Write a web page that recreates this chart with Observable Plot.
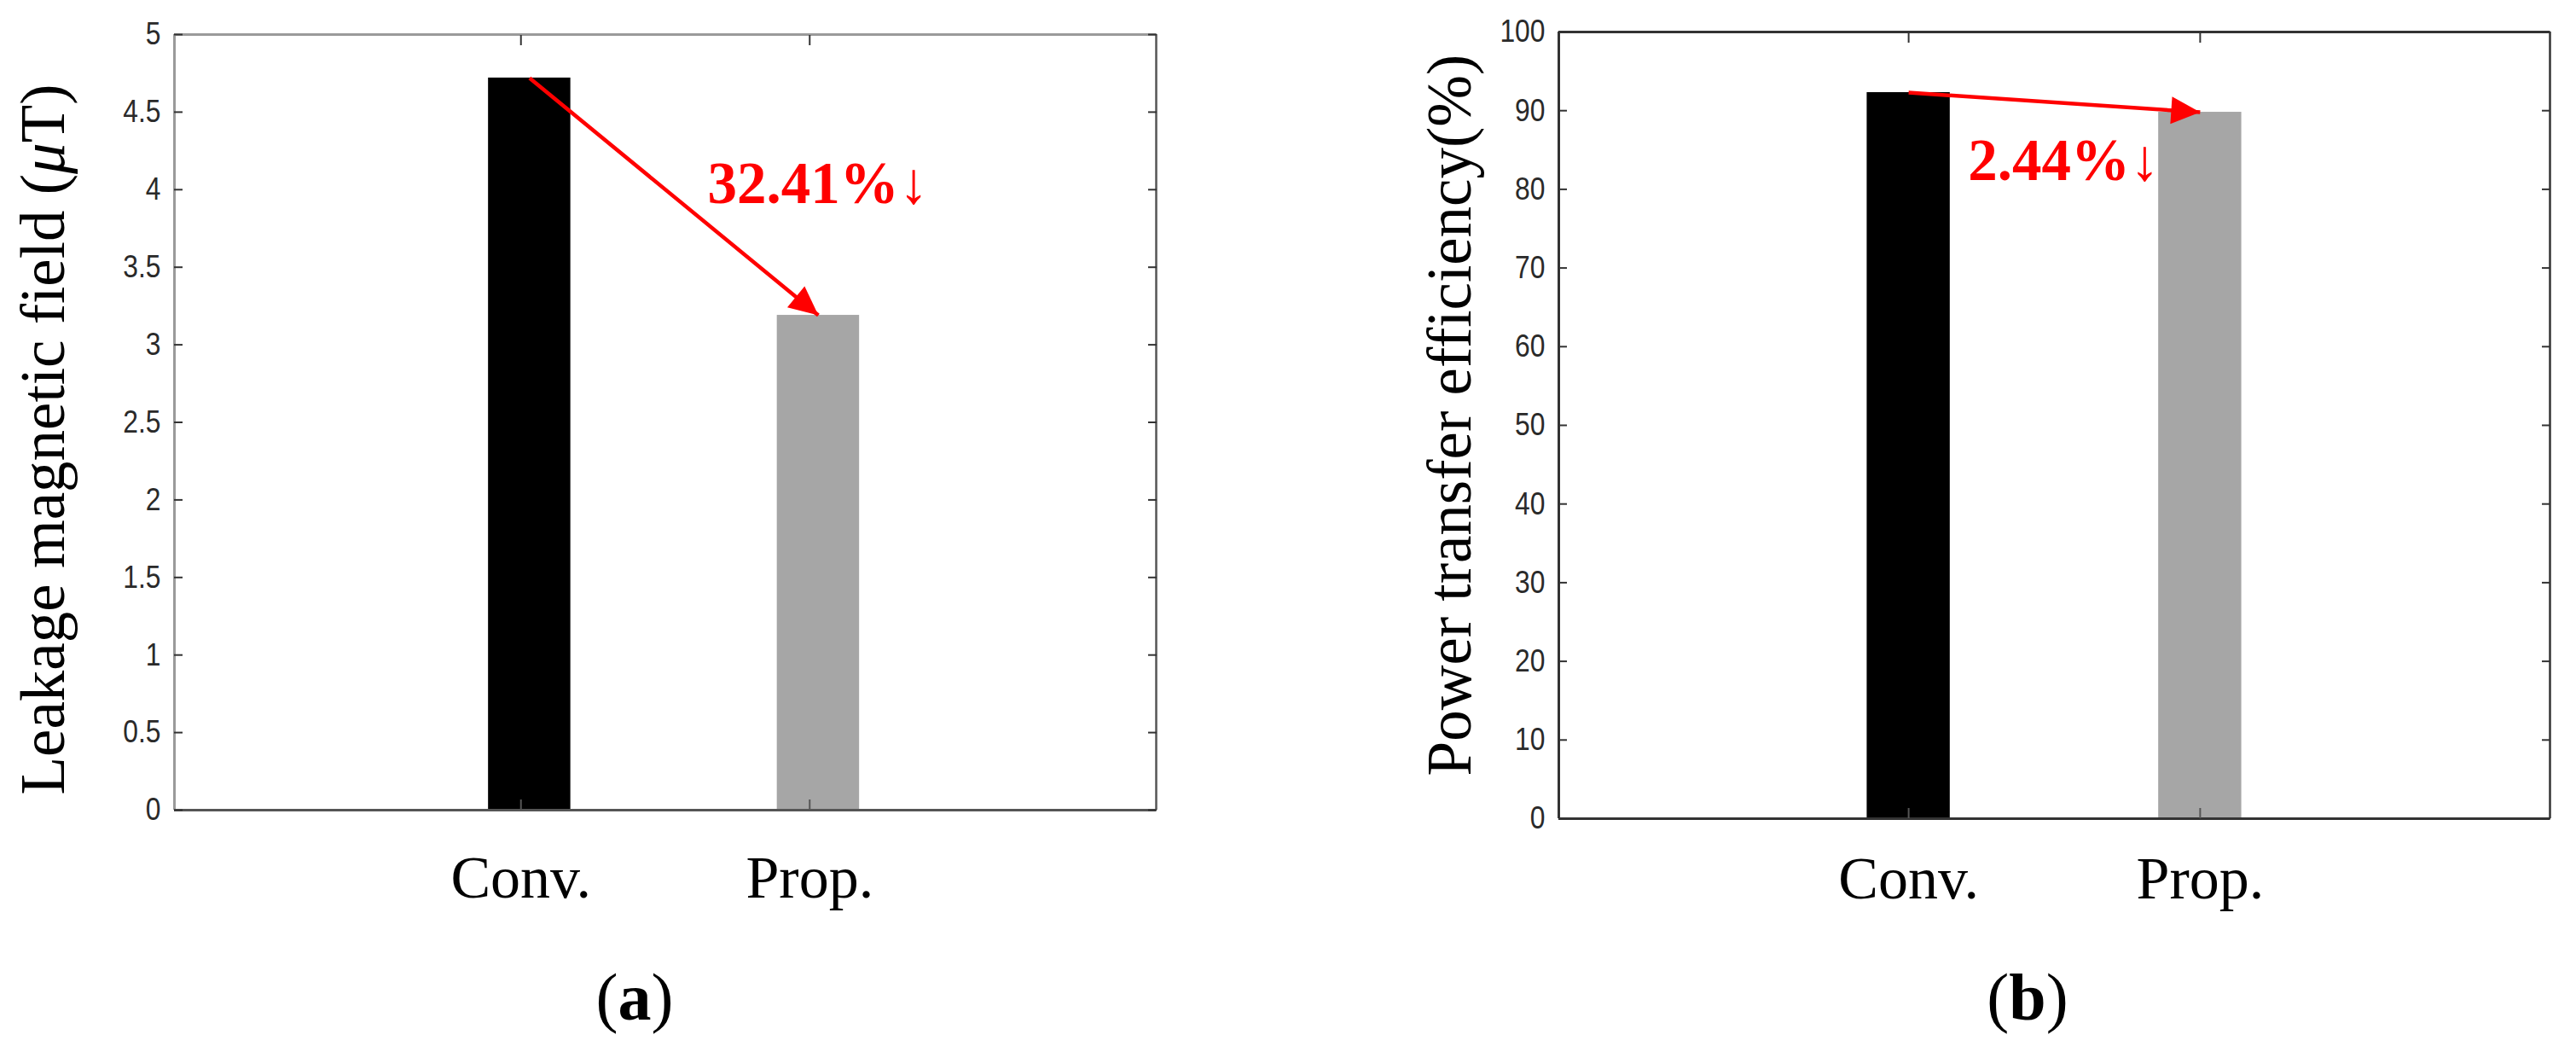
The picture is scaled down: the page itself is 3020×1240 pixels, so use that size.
<!DOCTYPE html>
<html><head><meta charset="utf-8">
<script src="https://cdn.jsdelivr.net/npm/d3@7"></script>
<script src="https://cdn.jsdelivr.net/npm/@observablehq/plot@0.6"></script>
<style>
html,body{margin:0;padding:0;background:#fff;}
#root{position:relative;width:3020px;height:1240px;overflow:hidden;background:#fff;}
.panel{position:absolute;top:0;}
.cap{position:absolute;font-family:"Liberation Serif","Times New Roman",serif;font-size:78px;line-height:78px;transform:translateX(-50%);white-space:nowrap;color:#000;}
</style></head><body><div id="root"></div>
<script>
// ---- data ----
const categories = ["Conv.", "Prop."];
const leakageValues = [4.72, 3.19];        // µT
const efficiencyValues = [92.3, 89.8];     // %
const barColors = ["#000000", "#a6a6a6"];
const leakageTicks = [0, 0.5, 1, 1.5, 2, 2.5, 3, 3.5, 4, 4.5, 5];
const efficiencyTicks = [0, 10, 20, 30, 40, 50, 60, 70, 80, 90, 100];
const changeLabels = ["32.41%", "2.44%"];
const yLabels = ["Leakage magnetic field (μT)", "Power transfer efficiency(%)"];
const panelLabels = ["a", "b"];

// ---- layout / style ----
const NS = "http://www.w3.org/2000/svg";
const xPos = categories.map((c, i) => i + 1);
const halfBar = 0.1425;
const tickFont = "'Liberation Sans', Arial, sans-serif";
const serif = "'Liberation Serif', 'Times New Roman', serif";
const panels = [
  {left: 0, width: 1510, height: 1100,
   margin: {top: 40, right: 155, bottom: 151, left: 204},
   values: leakageValues, yDomain: [0, 5], ticks: leakageTicks, barShift: 0.03,
   yLabel: yLabels[0], change: changeLabels[0], annot: {x: 1.646, y: 3.916},
   labelDx: -130, labelDy: 20, xPad: 65,
   frame: {left: "#9a9a9a", top: "#9a9a9a", right: "#555", bottom: "#555"},
   capX: 744, cap: panelLabels[0]},
  {left: 1510, width: 1510, height: 1100,
   margin: {top: 37, right: 31, bottom: 141, left: 317},
   values: efficiencyValues, yDomain: [0, 100], ticks: efficiencyTicks, barShift: 0,
   yLabel: yLabels[1], change: changeLabels[1], annot: {x: 1.204, y: 81.2},
   labelDx: -104, labelDy: -12, xPad: 56,
   frame: {left: "#333", top: "#333", right: "#333", bottom: "#333"},
   capX: 2377, cap: panelLabels[1]}
];

const root = document.getElementById("root");

panels.forEach((p, pi) => {
  const bars = categories.map((c, i) => ({c, i: xPos[i] + p.barShift, v: p.values[i], fill: barColors[i]}));
  const xDomain = [-0.2, 3.2];
  const arrowData = [{x1: bars[0].i, y1: p.values[0], x2: bars[1].i, y2: p.values[1]}];
  const plot = Plot.plot({
    width: p.width, height: p.height,
    marginTop: p.margin.top, marginRight: p.margin.right,
    marginBottom: p.margin.bottom, marginLeft: p.margin.left,
    style: {background: "#fff", fontFamily: tickFont, fontSize: "36px", color: "#222"},
    x: {domain: xDomain, axis: null, label: null},
    y: {domain: p.yDomain, axis: null, label: null},
    marks: [
      Plot.rectY(bars, {x1: d => d.i - halfBar, x2: d => d.i + halfBar, y1: 0, y2: d => d.v, fill: d => d.fill}),
      Plot.ruleX([xDomain[0]], {stroke: p.frame.left, strokeWidth: 3}),
      Plot.ruleY([p.yDomain[1]], {stroke: p.frame.top, strokeWidth: 3}),
      Plot.ruleX([xDomain[1]], {stroke: p.frame.right, strokeWidth: 2.5}),
      Plot.ruleY([p.yDomain[0]], {stroke: p.frame.bottom, strokeWidth: 3}),
      Plot.axisY({anchor: "left", ticks: p.ticks, tickSize: -10, tickPadding: 26,
        tickFormat: d => `${d}`, stroke: "#333", strokeWidth: 2, fill: "#2a2a2a",
        fontSize: 37, fontFamily: tickFont, label: null}),
      Plot.axisY({anchor: "right", ticks: p.ticks, tickSize: -10, tickFormat: () => "",
        stroke: "#333", strokeWidth: 2, label: null}),
      Plot.axisX({anchor: "top", ticks: xPos, tickSize: -12, tickFormat: () => "",
        stroke: "#333", strokeWidth: 2, label: null}),
      Plot.axisX({anchor: "bottom", ticks: xPos, tickSize: -12, tickPadding: p.xPad,
        tickFormat: d => categories[d - 1], stroke: "#555", strokeWidth: 2, fill: "#000",
        fontSize: 70, fontFamily: serif, label: null}),
      Plot.link(arrowData, {x1: "x1", y1: "y1", x2: "x2", y2: "y2",
        stroke: "#ff0000", strokeWidth: 4.5}),
      Plot.text([{x: p.annot.x, y: p.annot.y, t: p.change + "↓"}], {x: "x", y: "y", text: "t",
        textAnchor: "start", lineAnchor: "bottom", fill: "#ff0000",
        fontFamily: serif, fontSize: 69}),
      Plot.text([p.yLabel], {frameAnchor: "left", text: d => d, rotate: -90,
        dx: p.labelDx, dy: p.labelDy, textAnchor: "middle", lineAnchor: "bottom", fill: "#000",
        fontFamily: serif, fontSize: 73})
    ]
  });

  // arrowhead marker
  const defs = document.createElementNS(NS, "defs");
  const marker = document.createElementNS(NS, "marker");
  const mid = "tri-" + pi;
  marker.setAttribute("id", mid);
  marker.setAttribute("markerUnits", "userSpaceOnUse");
  marker.setAttribute("markerWidth", "34");
  marker.setAttribute("markerHeight", "32");
  marker.setAttribute("viewBox", "0 0 34 32");
  marker.setAttribute("refX", "34");
  marker.setAttribute("refY", "16");
  marker.setAttribute("orient", "auto");
  marker.setAttribute("overflow", "visible");
  const tri = document.createElementNS(NS, "path");
  tri.setAttribute("d", "M0,0L34,16L0,32Z");
  tri.setAttribute("fill", "#ff0000");
  marker.appendChild(tri);
  defs.appendChild(marker);
  plot.insertBefore(defs, plot.firstChild);
  plot.querySelectorAll("path").forEach(el => {
    const g = el.closest("g");
    if (g && g.getAttribute("aria-label") === "link") el.setAttribute("marker-end", `url(#${mid})`);
  });

  // condensed look for the y tick labels (scaled around their right-hand anchor)
  plot.querySelectorAll('g[aria-label="y-axis tick label"] text').forEach(t => {
    const tr = t.getAttribute("transform");
    if (tr) t.setAttribute("transform", tr + " scale(0.86,1)");
  });

  plot.querySelectorAll("text").forEach(t => {
    const s = t.textContent;
    if (s.includes("↓")) {
      t.textContent = "";
      const a = document.createElementNS(NS, "tspan");
      a.setAttribute("font-weight", "bold");
      a.textContent = s.replace("↓", "");
      const b = document.createElementNS(NS, "tspan");
      b.setAttribute("font-weight", "normal");
      b.textContent = "↓";
      t.appendChild(a); t.appendChild(b);
    } else if (s.includes("μ")) {
      t.textContent = "";
      s.split(/(μ)/).forEach(part => {
        if (!part) return;
        const ts = document.createElementNS(NS, "tspan");
        if (part === "μ") ts.setAttribute("font-style", "italic");
        ts.textContent = part;
        t.appendChild(ts);
      });
    }
  });

  const wrap = document.createElement("div");
  wrap.className = "panel";
  wrap.style.left = p.left + "px";
  wrap.style.width = p.width + "px";
  wrap.appendChild(plot);
  root.appendChild(wrap);

  const cap = document.createElement("div");
  cap.className = "cap";
  cap.style.left = p.capX + "px";
  cap.style.top = "1130px";
  cap.innerHTML = `(<b>${p.cap}</b>)`;
  root.appendChild(cap);
});
</script>
</body></html>
